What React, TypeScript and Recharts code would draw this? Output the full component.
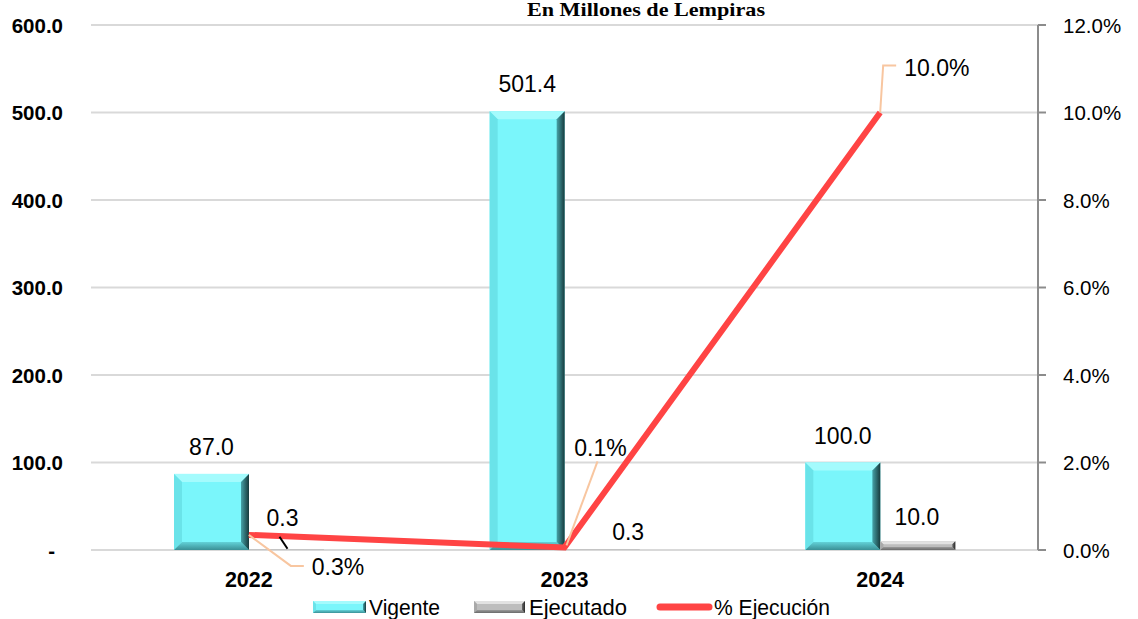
import React from "react";
import {
  ComposedChart,
  Bar,
  Line,
  XAxis,
  YAxis,
  CartesianGrid,
  Legend,
  LabelList,
} from "recharts";

const years = ["2022", "2023", "2024"];
const vigente = [87.0, 501.4, 100.0];
const ejecutado = [0.3, 0.3, 10.0];
const pctEjecucion = [0.345, 0.06, 10.0];
const leftTicks = [0, 100, 200, 300, 400, 500, 600];
const rightTicks = [0, 2, 4, 6, 8, 10, 12];
const legendNames = ["Vigente", "Ejecutado", "% Ejecución"];

const data = years.map((y, i) => ({
  year: y,
  vigente: vigente[i],
  ejecutado: ejecutado[i],
  pct: pctEjecucion[i],
}));

const ARIAL = "'Liberation Sans', Arial, sans-serif";

// label layout (style constants)
const ejeLabelOffsets = [
  { dx: -4, dy: -32, leader: [[-7, -13], [1, -1]] },
  { dx: 26, dy: -18, leader: null },
  { dx: -1, dy: -24, leader: null },
];
const pctLabelOffsets = [
  { tx: 63, ty: 32, anchor: "start", leader: [[0, 0], [42, 31], [55, 31]] },
  { tx: 36, ty: -99, anchor: "middle", leader: [[2, -2], [33, -86]] },
  { tx: 24, ty: -45, anchor: "start", leader: [[0, 0], [3, -47], [16, -47]] },
];

type Pal = { id: string; face: string; top: string; left: string; right1: string; right2: string; bottom1: string; bottom2: string };
const cyanPal: Pal = { id: "cy", face: "#7af6fb", top: "#a4fbfd", left: "#6ae3e9", right1: "#46a2a8", right2: "#173a3c", bottom1: "#62d2d8", bottom2: "#3a9096" };
const grayPal: Pal = { id: "gr", face: "#bdbdbd", top: "#e2e2e2", left: "#a9a9a9", right1: "#6a6a6a", right2: "#2a2a2a", bottom1: "#9a9a9a", bottom2: "#6a6a6a" };

let uid = 0;
function BevelRect({ x, y, width, height, pal, bevel = 8 }: { x: number; y: number; width: number; height: number; pal: Pal; bevel?: number }) {
  if (!(width > 0) || !(height > 0)) return null;
  const b = Math.min(bevel, height / 2, width / 2);
  const x2 = x + width;
  const y2 = y + height;
  const k = uid++;
  const gid = `rg-${pal.id}-${k}`;
  const bid = `bg-${pal.id}-${k}`;
  return (
    <g>
      <defs>
        <linearGradient id={gid} x1="0" y1="0" x2="1" y2="0">
          <stop offset="0" stopColor={pal.right1} />
          <stop offset="1" stopColor={pal.right2} />
        </linearGradient>
        <linearGradient id={bid} x1="0" y1="0" x2="0" y2="1">
          <stop offset="0" stopColor={pal.bottom1} />
          <stop offset="1" stopColor={pal.bottom2} />
        </linearGradient>
      </defs>
      <rect x={x} y={y} width={width} height={height} fill={pal.face} />
      <polygon points={`${x},${y} ${x2},${y} ${x2 - b},${y + b} ${x + b},${y + b}`} fill={pal.top} />
      <polygon points={`${x},${y} ${x + b},${y + b} ${x + b},${y2 - b} ${x},${y2}`} fill={pal.left} />
      <polygon points={`${x},${y2} ${x + b},${y2 - b} ${x2 - b},${y2 - b} ${x2},${y2}`} fill={`url(#${bid})`} />
      <polygon points={`${x2},${y} ${x2},${y2} ${x2 - b},${y2 - b} ${x2 - b},${y + b}`} fill={`url(#${gid})`} />
    </g>
  );
}

const VigenteShape = (p: any) => <BevelRect x={p.x} y={p.y} width={p.width} height={p.height} pal={cyanPal} />;
const EjecutadoShape = (p: any) => <BevelRect x={p.x} y={p.y} width={p.width} height={p.height} pal={grayPal} bevel={3} />;

const VigenteLabel = (p: any) => {
  const cx = p.x + p.width / 2;
  return (
    <text x={cx} y={p.y - 27} textAnchor="middle" dominantBaseline="central" fontFamily={ARIAL} fontSize={23} fill="#000">
      {Number(p.value).toFixed(1)}
    </text>
  );
};

const EjecutadoLabel = (p: any) => {
  const cx = p.x + p.width / 2;
  const top = p.y;
  const o = ejeLabelOffsets[p.index] || { dx: 0, dy: -24, leader: null };
  return (
    <g>
      {o.leader && (
        <line x1={cx + o.leader[0][0]} y1={top + o.leader[0][1]} x2={cx + o.leader[1][0]} y2={top + o.leader[1][1]} stroke="#000" strokeWidth={2} />
      )}
      <text x={cx + o.dx} y={top + o.dy} textAnchor="middle" dominantBaseline="central" fontFamily={ARIAL} fontSize={23} fill="#000">
        {Number(p.value).toFixed(1)}
      </text>
    </g>
  );
};

const PctLabel = (p: any) => {
  const o = pctLabelOffsets[p.index];
  if (!o) return null;
  const pts = o.leader.map(([dx, dy]) => `${p.x + dx},${p.y + dy}`).join(" ");
  return (
    <g>
      <polyline points={pts} fill="none" stroke="#f8c6a0" strokeWidth={2} />
      <text x={p.x + o.tx} y={p.y + o.ty} textAnchor={o.anchor as any} dominantBaseline="central" fontFamily={ARIAL} fontSize={23} fill="#000">
        {Number(p.value).toFixed(1)}%
      </text>
    </g>
  );
};

const LeftTick = (p: any) => {
  const v = p.payload.value;
  const txt = v === 0 ? "-" : Number(v).toFixed(1);
  return (
    <text x={v === 0 ? p.x - 8 : p.x} y={p.y} textAnchor="end" dominantBaseline="central" fontFamily={ARIAL} fontWeight="bold" fontSize={20.5} fill="#000">
      {txt}
    </text>
  );
};

const RightTick = (p: any) => (
  <text x={p.x} y={p.y} textAnchor="start" dominantBaseline="central" fontFamily={ARIAL} fontSize={20.5} fill="#000">
    {Number(p.payload.value).toFixed(1)}%
  </text>
);

const XTick = (p: any) => (
  <text x={p.x} y={p.y} textAnchor="middle" dominantBaseline="central" fontFamily={ARIAL} fontWeight="bold" fontSize={21.5} fill="#000">
    {p.payload.value}
  </text>
);

const LegendContent = () => (
  <svg width={1138} height={29} style={{ display: "block" }}>
    <BevelRect x={313} y={11} width={53} height={12} pal={cyanPal} bevel={3} />
    <text x={369} y={17} dominantBaseline="central" fontFamily={ARIAL} fontSize={22} textLength={71} lengthAdjust="spacingAndGlyphs" fill="#000">
      {legendNames[0]}
    </text>
    <BevelRect x={474} y={11} width={51} height={12} pal={grayPal} bevel={3} />
    <text x={529} y={17} dominantBaseline="central" fontFamily={ARIAL} fontSize={22} textLength={98} lengthAdjust="spacingAndGlyphs" fill="#000">
      {legendNames[1]}
    </text>
    <line x1={660} y1={17} x2={709} y2={17} stroke="#ff4444" strokeWidth={7} strokeLinecap="round" />
    <text x={714} y={17} dominantBaseline="central" fontFamily={ARIAL} fontSize={22} textLength={116} lengthAdjust="spacingAndGlyphs" fill="#000">
      {legendNames[2]}
    </text>
  </svg>
);

export default function App() {
  return (
    <div style={{ position: "absolute", left: 0, top: 0, width: 1138, height: 619, background: "#fff" }}>
      <svg width={1138} height={22} style={{ position: "absolute", left: 0, top: 0, zIndex: 2 }}>
        <text
          x={527}
          y={9}
          dominantBaseline="central"
          fontFamily="'Liberation Serif', serif"
          fontWeight="bold"
          fontSize={19}
          textLength={238}
          lengthAdjust="spacingAndGlyphs"
          fill="#000"
        >
          En Millones de Lempiras
        </text>
      </svg>
      <ComposedChart
        width={1138}
        height={619}
        data={data}
        margin={{ top: 25, right: 0, bottom: 0, left: 0 }}
        barGap={0}
      >
        <CartesianGrid yAxisId="left" vertical={false} stroke="#d9d9d9" strokeWidth={2} />
        <XAxis
          dataKey="year"
          axisLine={false}
          tickLine={false}
          tickSize={0}
          tickMargin={30}
          height={40}
          tick={<XTick />}
        />
        <YAxis
          yAxisId="left"
          orientation="left"
          width={91}
          domain={[0, 600]}
          ticks={leftTicks}
          axisLine={false}
          tickLine={false}
          tickSize={0}
          tickMargin={28}
          tick={<LeftTick />}
        />
        <YAxis
          yAxisId="right"
          orientation="right"
          width={100}
          domain={[0, 12]}
          ticks={rightTicks}
          axisLine={{ stroke: "#8c8c8c", strokeWidth: 2 }}
          tickLine={{ stroke: "#8c8c8c", strokeWidth: 2 }}
          tickSize={8}
          tickMargin={17}
          tick={<RightTick />}
        />
        <Legend verticalAlign="bottom" content={<LegendContent />} />
        <Bar yAxisId="left" dataKey="vigente" barSize={75} shape={<VigenteShape />} isAnimationActive={false}>
          <LabelList dataKey="vigente" content={<VigenteLabel />} />
        </Bar>
        <Bar yAxisId="left" dataKey="ejecutado" barSize={75} shape={<EjecutadoShape />} isAnimationActive={false}>
          <LabelList dataKey="ejecutado" content={<EjecutadoLabel />} />
        </Bar>
        <Line
          yAxisId="right"
          dataKey="pct"
          stroke="#ff4444"
          strokeWidth={6}
          dot={false}
          activeDot={false}
          isAnimationActive={false}
        >
          <LabelList dataKey="pct" content={<PctLabel />} />
        </Line>
      </ComposedChart>
    </div>
  );
}
